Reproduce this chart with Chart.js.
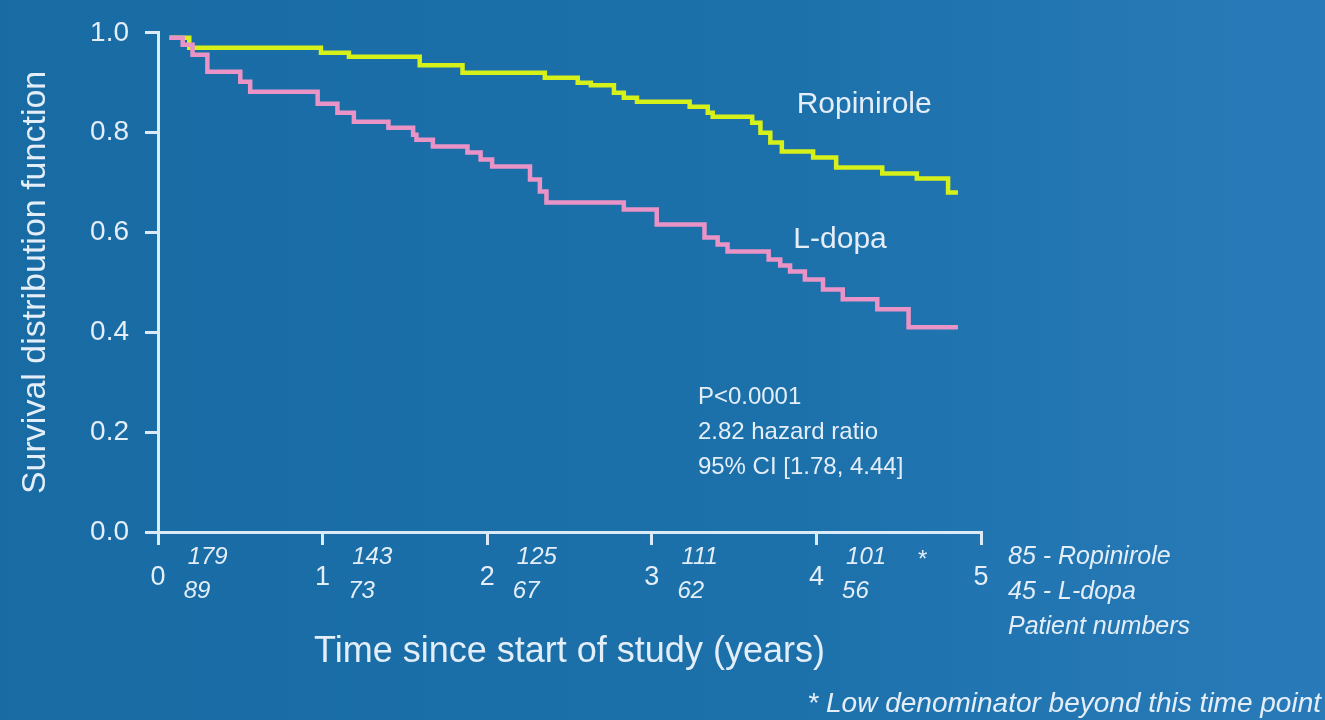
<!DOCTYPE html>
<html>
<head>
<meta charset="utf-8">
<script src="https://cdn.jsdelivr.net/npm/chart.js@4.4.8/dist/chart.umd.min.js"></script>
<style>
  html, body { margin: 0; padding: 0; background: #1f6ea8; }
  canvas { display: block; }
</style>
</head>
<body>
<canvas id="survivalChart" width="1325" height="720"></canvas>
<script>
// Kaplan-Meier steps (time in years, survival after the drop)
const ldopaTimes = [0.07, 0.15, 0.21, 0.30, 0.50, 0.56, 0.97, 1.09, 1.19, 1.40, 1.55, 1.57,
  1.67, 1.88, 1.96, 2.03, 2.26, 2.32, 2.36, 2.83, 3.03, 3.32, 3.40, 3.46,
  3.71, 3.78, 3.84, 3.93, 4.04, 4.16, 4.37, 4.56, 4.86];
const ldopaSurvival = [0.99, 0.976, 0.956, 0.922, 0.902, 0.882, 0.858, 0.84, 0.822, 0.81, 0.796, 0.786,
  0.772, 0.76, 0.746, 0.732, 0.706, 0.682, 0.66, 0.646, 0.616, 0.59, 0.576, 0.562,
  0.546, 0.534, 0.522, 0.506, 0.486, 0.466, 0.446, 0.41, 0.41];

const ropiniroleTimes = [0.07, 0.19, 0.99, 1.16, 1.59, 1.85, 2.35, 2.55, 2.63, 2.77, 2.83, 2.91,
  3.23, 3.34, 3.37, 3.61, 3.66, 3.72, 3.79, 3.98, 4.12, 4.40, 4.61, 4.80, 4.86];
const ropiniroleSurvival = [0.99, 0.97, 0.96, 0.952, 0.935, 0.92, 0.91, 0.90, 0.895, 0.88, 0.87, 0.862,
  0.852, 0.84, 0.832, 0.82, 0.80, 0.78, 0.762, 0.75, 0.73, 0.718, 0.708, 0.68, 0.68];

// patients at risk under the x axis
const atRiskYears = [0, 1, 2, 3, 4];
const ropiniroleAtRisk = ["179", "143", "125", "111", "101"];
const ldopaAtRisk = ["89", "73", "67", "62", "56"];
const lowDenominatorYear = 4.64;

const statsLines = ["P<0.0001", "2.82 hazard ratio", "95% CI [1.78, 4.44]"];
const legendLines = ["85 - Ropinirole", "45 - L-dopa", "Patient numbers"];

const textColor = "#e4eef8";
const axisColor = "#dbeaf7";
const fontFamily = "'Liberation Sans', Arial, Helvetica, sans-serif";

function toPoints(times, values) {
  return times.map((t, i) => ({ x: t, y: values[i] }));
}

const backgroundPlugin = {
  id: "background",
  beforeDraw(chart) {
    const ctx = chart.ctx;
    const grad = ctx.createLinearGradient(0, 0, chart.width, 0);
    grad.addColorStop(0, "#186ba3");
    grad.addColorStop(0.6, "#1d71ab");
    grad.addColorStop(1, "#287bb8");
    ctx.save();
    ctx.fillStyle = grad;
    ctx.fillRect(0, 0, chart.width, chart.height);
    ctx.restore();
  }
};

const notesPlugin = {
  id: "notes",
  afterDraw(chart) {
    const ctx = chart.ctx;
    const x = chart.scales.x;
    const y = chart.scales.y;
    ctx.save();
    ctx.fillStyle = textColor;
    ctx.textBaseline = "middle";

    // at-risk numbers
    ctx.font = "italic 24px " + fontFamily;
    ctx.textAlign = "left";
    atRiskYears.forEach((yr, i) => {
      const px = x.getPixelForValue(yr + 0.18);
      ctx.fillText(ropiniroleAtRisk[i], px, 557);
      ctx.fillText(ldopaAtRisk[i], px - 4, 591);
    });
    ctx.textAlign = "center";
    ctx.fillText("*", x.getPixelForValue(lowDenominatorYear), 560);

    ctx.font = "italic 25px " + fontFamily;
    ctx.textAlign = "left";
    legendLines.forEach((line, i) => {
      ctx.fillText(line, x.right + 27, 557 + i * 35);
    });

    // curve labels
    ctx.font = "30px " + fontFamily;
    ctx.fillText("Ropinirole", x.getPixelForValue(3.88), y.getPixelForValue(0.855));
    ctx.fillText("L-dopa", x.getPixelForValue(3.86), y.getPixelForValue(0.585));

    // stats box
    ctx.font = "24px " + fontFamily;
    statsLines.forEach((line, i) => {
      ctx.fillText(line, x.getPixelForValue(3.28), y.getPixelForValue(0.27) + i * 35);
    });

    // footnote
    ctx.font = "italic 28px " + fontFamily;
    ctx.textAlign = "right";
    ctx.fillText("* Low denominator beyond this time point", chart.width - 4, 704);
    ctx.restore();
  }
};

new Chart(document.getElementById("survivalChart"), {
  type: "line",
  data: {
    datasets: [
      {
        label: "L-dopa",
        data: toPoints(ldopaTimes, ldopaSurvival),
        borderColor: "#ea93c6",
        borderWidth: 4.5,
        stepped: "before",
        pointRadius: 0,
        fill: false
      },
      {
        label: "Ropinirole",
        data: toPoints(ropiniroleTimes, ropiniroleSurvival),
        borderColor: "#d6f01a",
        borderWidth: 4.5,
        stepped: "before",
        pointRadius: 0,
        fill: false
      }
    ]
  },
  options: {
    responsive: false,
    animation: false,
    layout: { padding: { left: 0, top: 32, right: 344, bottom: 0 } },
    plugins: {
      legend: { display: false },
      tooltip: { enabled: false }
    },
    scales: {
      x: {
        type: "linear",
        min: 0,
        max: 5,
        ticks: {
          stepSize: 1,
          color: textColor,
          font: { family: fontFamily, size: 27 },
          padding: 16,
          maxRotation: 0
        },
        grid: { drawOnChartArea: false, tickLength: 13, tickColor: axisColor, lineWidth: 3 },
        border: { color: axisColor, width: 3 },
        title: {
          display: true,
          text: "Time since start of study (years)",
          color: textColor,
          font: { family: fontFamily, size: 36 },
          padding: { top: 0, bottom: 46 }
        },
        afterFit(scale) { scale.height = 188; }
      },
      y: {
        min: 0,
        max: 1,
        ticks: {
          stepSize: 0.2,
          color: textColor,
          font: { family: fontFamily, size: 28 },
          padding: 16,
          callback: (v) => v.toFixed(1)
        },
        grid: { drawOnChartArea: false, tickLength: 13, tickColor: axisColor, lineWidth: 3 },
        border: { color: axisColor, width: 3 },
        title: {
          display: true,
          text: "Survival distribution function",
          color: textColor,
          font: { family: fontFamily, size: 34 },
          padding: { top: 15, bottom: 0 }
        },
        afterFit(scale) { scale.width = 158; }
      }
    }
  },
  plugins: [backgroundPlugin, notesPlugin]
});
</script>
</body>
</html>
